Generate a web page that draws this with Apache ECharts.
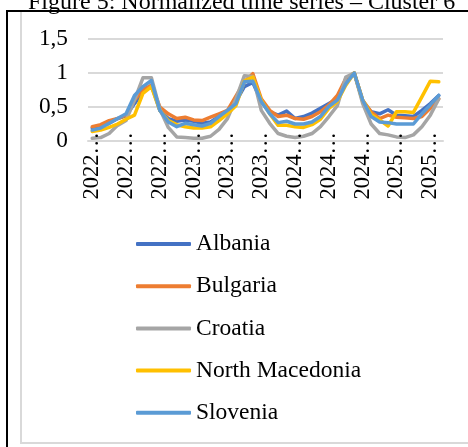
<!DOCTYPE html>
<html>
<head>
<meta charset="utf-8">
<script src="https://cdn.jsdelivr.net/npm/echarts@6/dist/echarts.min.js"></script>
<style>
  html, body { margin: 0; padding: 0; background: #fff; }
  #chart { width: 468px; height: 447px; }
</style>
</head>
<body>
<div id="chart"></div>
<script>
// Monthly observations, January 2022 to June 2025
const months = [
  '2022-01','2022-02','2022-03','2022-04','2022-05','2022-06','2022-07','2022-08','2022-09','2022-10','2022-11','2022-12',
  '2023-01','2023-02','2023-03','2023-04','2023-05','2023-06','2023-07','2023-08','2023-09','2023-10','2023-11','2023-12',
  '2024-01','2024-02','2024-03','2024-04','2024-05','2024-06','2024-07','2024-08','2024-09','2024-10','2024-11','2024-12',
  '2025-01','2025-02','2025-03','2025-04','2025-05','2025-06'
];

// Normalized values per country
const albania = [
  0.19, 0.21, 0.26, 0.33, 0.37, 0.55, 0.72, 0.82, 0.45, 0.33, 0.29, 0.31,
  0.29, 0.26, 0.28, 0.36, 0.43, 0.58, 0.80, 0.86, 0.58, 0.43, 0.38, 0.44,
  0.33, 0.36, 0.41, 0.48, 0.55, 0.62, 0.87, 1.00, 0.58, 0.43, 0.40, 0.46,
  0.38, 0.37, 0.36, 0.45, 0.55, 0.67
];
const bulgaria = [
  0.21, 0.24, 0.30, 0.33, 0.38, 0.60, 0.76, 0.82, 0.50, 0.40, 0.33, 0.35,
  0.31, 0.30, 0.35, 0.40, 0.45, 0.66, 0.87, 0.99, 0.62, 0.45, 0.36, 0.38,
  0.33, 0.32, 0.36, 0.43, 0.53, 0.67, 0.92, 1.00, 0.60, 0.43, 0.33, 0.38,
  0.35, 0.34, 0.33, 0.36, 0.48, 0.62
];
const croatia = [
  0.04, 0.05, 0.11, 0.23, 0.30, 0.60, 0.93, 0.93, 0.47, 0.20, 0.06, 0.05,
  0.04, 0.04, 0.07, 0.17, 0.33, 0.62, 0.96, 0.95, 0.45, 0.26, 0.11, 0.07,
  0.05, 0.07, 0.11, 0.21, 0.36, 0.52, 0.94, 1.00, 0.55, 0.25, 0.11, 0.09,
  0.06, 0.05, 0.09, 0.21, 0.38, 0.62
];
const northMacedonia = [
  0.14, 0.16, 0.20, 0.25, 0.32, 0.38, 0.70, 0.80, 0.45, 0.30, 0.24, 0.21,
  0.19, 0.19, 0.21, 0.30, 0.40, 0.52, 0.88, 0.94, 0.60, 0.40, 0.23, 0.23,
  0.21, 0.20, 0.24, 0.32, 0.48, 0.58, 0.82, 1.00, 0.60, 0.39, 0.31, 0.22,
  0.43, 0.43, 0.42, 0.65, 0.88, 0.87
];
const slovenia = [
  0.16, 0.19, 0.26, 0.33, 0.40, 0.67, 0.80, 0.89, 0.45, 0.28, 0.21, 0.26,
  0.24, 0.22, 0.26, 0.36, 0.45, 0.55, 0.87, 0.88, 0.58, 0.40, 0.27, 0.29,
  0.25, 0.25, 0.28, 0.36, 0.51, 0.60, 0.84, 1.00, 0.60, 0.36, 0.28, 0.27,
  0.25, 0.25, 0.25, 0.40, 0.53, 0.67
];

const yTicks = [0, 0.5, 1, 1.5];

const countries = [
  { name: 'Albania', data: albania, color: '#4472C4' },
  { name: 'Bulgaria', data: bulgaria, color: '#ED7D31' },
  { name: 'Croatia', data: croatia, color: '#A5A5A5' },
  { name: 'North Macedonia', data: northMacedonia, color: '#FFC000' },
  { name: 'Slovenia', data: slovenia, color: '#5B9BD5' }
];

const serif = '"Liberation Serif", "Times New Roman", serif';
const gridGray = '#d9d9d9';

const chart = echarts.init(document.getElementById('chart'), null, { renderer: 'canvas' });

chart.setOption({
  backgroundColor: '#ffffff',
  animation: false,
  graphic: [
    // caption above the frame
    {
      type: 'text', left: 28, top: -9, z: 1,
      style: { text: 'Figure 5: Normalized time series – Cluster 6', font: '24px ' + serif, fill: '#000' }
    },
    // outer frame (top and left edges)
    { type: 'rect', shape: { x: 6, y: 10, width: 462, height: 2 }, style: { fill: '#000' }, z: 2 },
    { type: 'rect', shape: { x: 6, y: 10, width: 2, height: 437 }, style: { fill: '#000' }, z: 2 },
    // chart area border
    { type: 'rect', shape: { x: 20, y: 12, width: 2, height: 432 }, style: { fill: gridGray }, z: 2 },
    { type: 'rect', shape: { x: 20, y: 442, width: 448, height: 2 }, style: { fill: gridGray }, z: 2 }
  ],
  grid: { left: 88, right: 25, top: 39, bottom: 306, containLabel: false },
  xAxis: {
    type: 'category',
    data: months,
    boundaryGap: true,
    z: 5,
    axisLine: { show: true, lineStyle: { color: gridGray, width: 2 } },
    axisTick: { show: false },
    axisLabel: {
      interval: 3,
      rotate: 90,
      margin: -9,
      color: '#000',
      fontFamily: serif,
      fontSize: 22.5,
      formatter: v => v.slice(0, 4) + '…'
    },
    splitLine: { show: false }
  },
  yAxis: {
    type: 'value',
    min: yTicks[0],
    max: yTicks[yTicks.length - 1],
    interval: 0.5,
    axisLine: { show: false },
    axisTick: { show: false },
    axisLabel: {
      margin: 20,
      color: '#000',
      fontFamily: serif,
      fontSize: 23.3,
      formatter: v => String(v).replace('.', ',')
    },
    splitLine: { show: true, lineStyle: { color: gridGray, width: 2 } }
  },
  legend: {
    orient: 'vertical',
    left: 131,
    top: 225,
    icon: 'roundRect',
    itemWidth: 55,
    itemHeight: 4,
    itemGap: 14.2,
    textStyle: { color: '#000', fontFamily: serif, fontSize: 23.5, lineHeight: 28 },
    data: countries.map(c => c.name)
  },
  series: countries.map(c => ({
    name: c.name,
    type: 'line',
    data: c.data,
    symbol: 'none',
    color: c.color,
    lineStyle: { color: c.color, width: 3.5, cap: 'round', join: 'round' }
  }))
});
</script>
</body>
</html>
